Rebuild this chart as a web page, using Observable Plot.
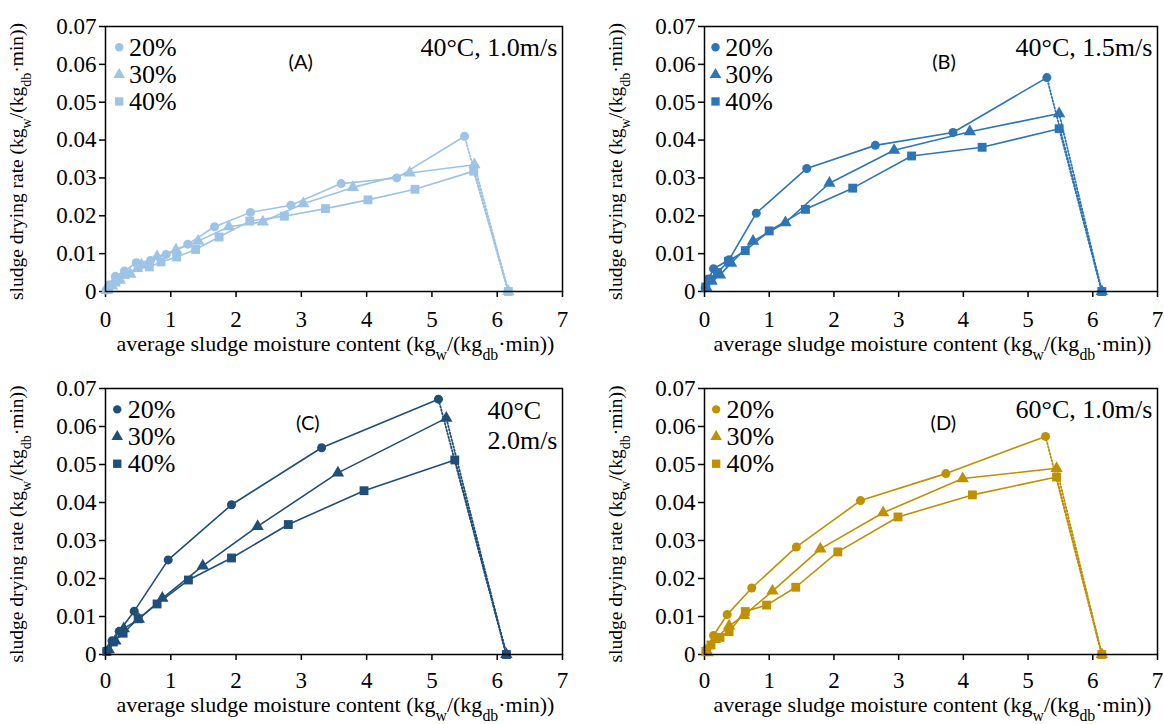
<!DOCTYPE html>
<html><head><meta charset="utf-8">
<script src="https://cdn.jsdelivr.net/npm/d3@7"></script>
<script src="https://cdn.jsdelivr.net/npm/@observablehq/plot@0.6"></script>
<style>
body{margin:0;background:#fff;}
#wrap{position:relative;width:1164px;height:724px;overflow:hidden;background:#fff;}
#wrap svg{position:absolute;}
</style></head><body><div id="wrap"></div>
<script>
// ---------- data ----------
const groups = ["20%", "30%", "40%"];
const symbols = ["circle", "triangle", "square"];
const panelIds = ["(A)", "(B)", "(C)", "(D)"];
const conditionText = [["40°C, 1.0m/s"], ["40°C, 1.5m/s"], ["40°C", "2.0m/s"], ["60°C, 1.0m/s"]];
const panelColors = ["#9dc3e6", "#2e75b6", "#1f4e79", "#bf9000"];
const xTicks = [0, 1, 2, 3, 4, 5, 6, 7];
const xTickLabels = ["0", "1", "2", "3", "4", "5", "6", "7"];
const yTicks = [0, 0.01, 0.02, 0.03, 0.04, 0.05, 0.06, 0.07];
const yTickLabels = ["0", "0.01", "0.02", "0.03", "0.04", "0.05", "0.06", "0.07"];
const initialX = [6.17, 6.14, 6.14, 6.14];   // initial moisture content (rate 0)

// Panel A: 40°C, 1.0 m/s
const A20x = [5.50, 4.46, 3.61, 2.84, 2.22, 1.67, 1.26, 0.93, 0.69, 0.47, 0.29, 0.15, 0.06, 0.01];
const A20y = [0.0410, 0.0300, 0.0285, 0.0228, 0.0209, 0.0171, 0.0125, 0.0098, 0.0082, 0.0076, 0.0054, 0.0040, 0.0018, 0.0004];
const A30x = [5.65, 4.66, 3.79, 3.03, 2.41, 1.89, 1.42, 1.08, 0.79, 0.55, 0.38, 0.22, 0.10, 0.02];
const A30y = [0.0335, 0.0313, 0.0275, 0.0232, 0.0184, 0.0171, 0.0133, 0.0110, 0.0092, 0.0070, 0.0046, 0.0030, 0.0015, 0.0003];
const A40x = [5.64, 4.74, 4.02, 3.37, 2.74, 2.21, 1.74, 1.38, 1.09, 0.85, 0.67, 0.50, 0.30, 0.16, 0.05];
const A40y = [0.0318, 0.0270, 0.0242, 0.0219, 0.0199, 0.0186, 0.0144, 0.0111, 0.0091, 0.0078, 0.0065, 0.0063, 0.0045, 0.0025, 0.0008];
// Panel B: 40°C, 1.5 m/s
const B20x = [5.29, 3.84, 2.64, 1.58, 0.80, 0.38, 0.14, 0.06, 0.01];
const B20y = [0.0565, 0.0420, 0.0386, 0.0325, 0.0207, 0.0084, 0.0060, 0.0033, 0.0010];
const B30x = [5.48, 4.10, 2.93, 1.93, 1.25, 0.75, 0.41, 0.24, 0.11, 0.03];
const B30y = [0.0470, 0.0422, 0.0373, 0.0286, 0.0182, 0.0133, 0.0075, 0.0044, 0.0027, 0.0010];
const B40x = [5.48, 4.29, 3.20, 2.29, 1.56, 1.00, 0.63, 0.37, 0.20, 0.10, 0.02];
const B40y = [0.0430, 0.0381, 0.0358, 0.0273, 0.0217, 0.0160, 0.0108, 0.0080, 0.0050, 0.0032, 0.0012];
// Panel C: 40°C, 2.0 m/s
const C20x = [5.10, 3.31, 1.93, 0.96, 0.44, 0.21, 0.10, 0.02];
const C20y = [0.0672, 0.0544, 0.0394, 0.0249, 0.0114, 0.0061, 0.0036, 0.0010];
const C30x = [5.22, 3.56, 2.33, 1.49, 0.87, 0.51, 0.28, 0.15, 0.05];
const C30y = [0.0622, 0.0478, 0.0337, 0.0233, 0.0148, 0.0093, 0.0068, 0.0036, 0.0013];
const C40x = [5.35, 3.96, 2.80, 1.93, 1.27, 0.79, 0.50, 0.27, 0.12, 0.02];
const C40y = [0.0512, 0.0431, 0.0342, 0.0254, 0.0196, 0.0133, 0.0094, 0.0056, 0.0033, 0.0008];
// Panel D: 60°C, 1.0 m/s
const D20x = [5.27, 3.73, 2.41, 1.42, 0.73, 0.35, 0.14, 0.04];
const D20y = [0.0574, 0.0476, 0.0405, 0.0283, 0.0175, 0.0105, 0.0050, 0.0015];
const D30x = [5.44, 3.99, 2.76, 1.79, 1.05, 0.61, 0.38, 0.16, 0.05];
const D30y = [0.0490, 0.0463, 0.0373, 0.0278, 0.0167, 0.0103, 0.0075, 0.0040, 0.0005];
const D40x = [5.44, 4.14, 2.99, 2.06, 1.41, 0.96, 0.63, 0.38, 0.24, 0.10, 0.02];
const D40y = [0.0467, 0.0420, 0.0362, 0.0270, 0.0177, 0.0130, 0.0113, 0.0060, 0.0045, 0.0025, 0.0008];

const panelSeries = [
  [[A20x, A20y], [A30x, A30y], [A40x, A40y]],
  [[B20x, B20y], [B30x, B30y], [B40x, B40y]],
  [[C20x, C20y], [C30x, C30y], [C40x, C40y]],
  [[D20x, D20y], [D30x, D30y], [D40x, D40y]]
];

// ---------- layout ----------
const W = 582, H = 362;
const layouts = [
  {left: 0,   top: 0,   mL: 105, mR: 20, mT: 26, mB: 71, pad: 13, titleOff: 60},
  {left: 582, top: 0,   mL: 122, mR: 7,  mT: 26, mB: 71, pad: 13, titleOff: 60},
  {left: 0,   top: 362, mL: 105, mR: 20, mT: 26, mB: 70, pad: 11, titleOff: 58},
  {left: 582, top: 362, mL: 122, mR: 7,  mT: 26, mB: 70, pad: 11, titleOff: 58}
];
const symbolR = [4.5, 4.6, 5.0];
// legend / annotation anchors (data coordinates)
const legendMarkerX = [0.21, 0.17, 0.18, 0.18];
const legendTextX   = [0.36, 0.32, 0.34, 0.34];
const legendY = [0.0645, 0.0573, 0.0502];
const idPos = [[2.99, 0.0605], [3.70, 0.0605], [3.10, 0.0608], [3.69, 0.0608]];
const serif = "Liberation Serif";

function subText(sel, parts) {
  parts.forEach(([t, sub]) => {
    const ts = sel.append("tspan").text(t);
    if (sub) ts.attr("baseline-shift", "sub").attr("font-size", "0.72em");
  });
}

const wrap = document.getElementById("wrap");
panelSeries.forEach((series, p) => {
  const L = layouts[p];
  const color = panelColors[p];
  const solid = [], dotted = [];
  const dotMarks = [];
  series.forEach(([xs, ys], g) => {
    const rows = xs.map((x, i) => ({x, y: ys[i], g}));
    rows.forEach(r => solid.push(r));
    dotted.push({x: initialX[p], y: 0, g}, {x: xs[0], y: ys[0], g});
    rows.push({x: initialX[p], y: 0, g});
    dotMarks.push(Plot.dot(rows, {x: "x", y: "y", symbol: () => symbols[g], r: symbolR[g], fill: color, stroke: "none"}));
  });
  const legendMarks = groups.map((name, g) =>
    Plot.dot([name], {x: legendMarkerX[p], y: legendY[g], symbol: () => symbols[g], r: symbolR[g] - 0.3, fill: color}));
  const legendRows = groups.map((name, g) => ({name, y: legendY[g]}));
  const cond = conditionText[p];
  const condMarks = cond.length === 1
    ? [Plot.text([cond[0]], {x: 6.92, y: 0.0645, text: d => d, textAnchor: "end", fontSize: 26, fontFamily: serif, fill: "black"})]
    : [Plot.text(cond, {x: 5.85, y: (d, i) => [0.0642, 0.0563][i], text: d => d, textAnchor: "start", fontSize: 26, fontFamily: serif, fill: "black"})];

  const chart = Plot.plot({
    width: W, height: H,
    marginLeft: L.mL, marginRight: L.mR, marginTop: L.mT, marginBottom: L.mB,
    style: {fontFamily: serif, fontSize: "23px", color: "black", background: "transparent", overflow: "visible"},
    x: {domain: [0, 7]},
    y: {domain: [0, 0.07]},
    symbol: {type: "identity"},
    marks: [
      Plot.axisX({ticks: xTicks, tickFormat: d => xTickLabels[xTicks.indexOf(d)], tickSize: 6, tickPadding: L.pad, strokeWidth: 1.5, label: null, fontSize: 23, fontFamily: serif}),
      Plot.axisY({ticks: yTicks, tickFormat: d => yTickLabels[yTicks.indexOf(d)], tickSize: 6, tickPadding: 3, strokeWidth: 1.5, label: null, fontSize: 23, fontFamily: serif}),
      Plot.line(dotted, {x: "x", y: "y", z: "g", stroke: color, strokeWidth: 1.8, strokeDasharray: "1.5,2"}),
      Plot.line(solid, {x: "x", y: "y", z: "g", stroke: color, strokeWidth: 1.6}),
      ...dotMarks,
      Plot.frame({stroke: "black", strokeWidth: 1.5}),
      ...legendMarks,
      Plot.text(legendRows, {x: legendTextX[p], y: "y", text: "name", textAnchor: "start", fontSize: 26, fontFamily: serif, fill: "black"}),
      Plot.text([panelIds[p]], {x: idPos[p][0], y: idPos[p][1], text: d => d, fontSize: 20, fontFamily: "Lato", fill: "black"}),
      ...condMarks
    ]
  });
  chart.style.left = L.left + "px";
  chart.style.top = L.top + "px";
  const svg = d3.select(chart);
  const plotBottom = H - L.mB;
  const cx = (L.mL + (W - L.mR)) / 2 + 2;
  // x-axis title
  const xt = svg.append("text").attr("x", cx).attr("y", plotBottom + L.titleOff)
    .attr("text-anchor", "middle").attr("font-family", serif).attr("font-size", 22).attr("fill", "black");
  subText(xt, [["average sludge moisture content (kg"], ["w", true], ["/(kg"], ["db", true], ["·min))"]]);
  // y-axis title
  const cy = (L.mT + plotBottom) / 2 + 3;
  const yt = svg.append("text").attr("transform", `translate(${L.mL - 82},${cy}) rotate(-90)`)
    .attr("text-anchor", "middle").attr("font-family", serif).attr("font-size", 19.5).attr("fill", "black");
  subText(yt, [["sludge drying rate (kg"], ["w", true], ["/(kg"], ["db", true], ["·min))"]]);
  wrap.appendChild(chart);
});
</script>
</body></html>
